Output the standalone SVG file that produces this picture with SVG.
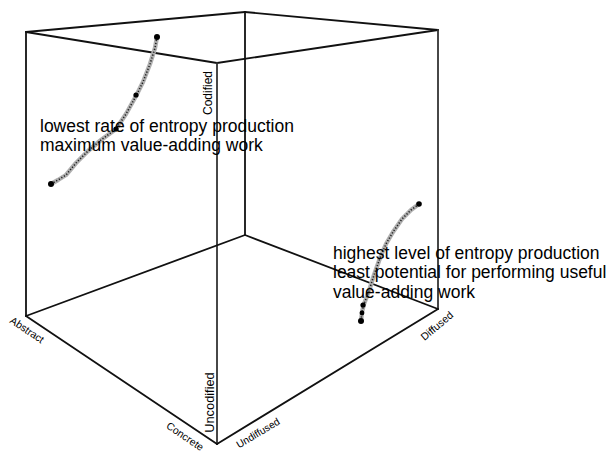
<svg xmlns="http://www.w3.org/2000/svg" width="611" height="452" viewBox="0 0 611 452">
<style>
.edge{stroke:#111;stroke-width:1.8;fill:none;stroke-linecap:round}
.trail{fill:none;stroke:#b0b0b0;stroke-width:4.4;stroke-linecap:round;stroke-linejoin:round}
.trailDots{fill:none;stroke:#222;stroke-width:1.6;stroke-dasharray:1.2 1.8;stroke-linejoin:round}
.dot{fill:#000}
.big{font-family:"Liberation Sans",Arial,sans-serif;font-size:17.5px;fill:#000}
.axis{font-family:"Liberation Sans",Arial,sans-serif;font-size:10.5px;fill:#000;text-anchor:middle}
.axisV{font-family:"Liberation Sans",Arial,sans-serif;fill:#000;text-anchor:middle}
</style>
<rect width="611" height="452" fill="#fff"/>
<g id="box">
  <line class="edge" x1="26" y1="32" x2="245" y2="12"/>
  <line class="edge" x1="245" y1="12" x2="438" y2="30"/>
  <line class="edge" x1="26" y1="32" x2="217" y2="63"/>
  <line class="edge" x1="217" y1="63" x2="438" y2="30"/>
  <line class="edge" x1="26" y1="32" x2="26" y2="316"/>
  <line class="edge" x1="245" y1="12" x2="245" y2="235"/>
  <line class="edge" x1="217" y1="63" x2="217" y2="444" style="stroke:#333"/>
  <line class="edge" x1="438" y1="30" x2="438" y2="309" style="stroke:#333"/>
  <line class="edge" x1="26" y1="316" x2="245" y2="235"/>
  <line class="edge" x1="245" y1="235" x2="438" y2="309"/>
  <line class="edge" x1="26" y1="316" x2="217" y2="444"/>
  <line class="edge" x1="217" y1="444" x2="438" y2="309"/>
</g>
<g id="trail-low">
  <path class="trail" d="M51,184 L58,180 L66,175 L76,163 L88,151 L101,140 L116,129 L126,114 L136,96 L143,82 L150,64 L155,48 L157,37"/>
  <path class="trailDots" d="M51,184 L58,180 L66,175 L76,163 L88,151 L101,140 L116,129 L126,114 L136,96 L143,82 L150,64 L155,48 L157,37"/>
  <circle class="dot" cx="51" cy="184" r="3"/>
  <circle class="dot" cx="116" cy="129" r="2.6"/>
  <circle class="dot" cx="136" cy="95" r="2.6"/>
  <circle class="dot" cx="157" cy="37" r="3"/>
</g>
<g id="trail-high">
  <path class="trail" d="M419,204 L411,210 L402,219 L393,232 L386,244 L380,258 L374,275 L369,291 L364,304 L362,312 L361,321"/>
  <path class="trailDots" d="M419,204 L411,210 L402,219 L393,232 L386,244 L380,258 L374,275 L369,291 L364,304 L362,312 L361,321"/>
  <circle class="dot" cx="419" cy="204" r="2.8"/>
  <circle class="dot" cx="363" cy="305" r="2.6"/>
  <circle class="dot" cx="362" cy="313" r="2.4"/>
  <circle class="dot" cx="361" cy="321" r="3"/>
</g>
<g id="label-low">
  <text class="big" x="40" y="131.5">lowest rate of entropy production</text>
  <text class="big" x="40" y="151">maximum value-adding work</text>
</g>
<g id="label-high">
  <text class="big" x="333" y="258.5">highest level of entropy production</text>
  <text class="big" x="333" y="278">least potential for performing useful</text>
  <text class="big" x="333" y="297.5">value-adding work</text>
</g>
<g id="axis-labels">
  <text class="axisV" style="font-size:12px" transform="translate(212,93) rotate(-90)">Codified</text>
  <text class="axisV" style="font-size:12.8px" transform="translate(213.5,402.5) rotate(-90)">Uncodified</text>
  <text class="axis" transform="translate(27,330) rotate(34)" y="3.5">Abstract</text>
  <text class="axis" transform="translate(185,436.5) rotate(34)" y="3.5">Concrete</text>
  <text class="axis" style="font-size:10.2px" transform="translate(258,433) rotate(-31)" y="3.5">Undiffused</text>
  <text class="axis" transform="translate(437,326) rotate(-40)" y="3.5">Diffused</text>
</g>
</svg>
